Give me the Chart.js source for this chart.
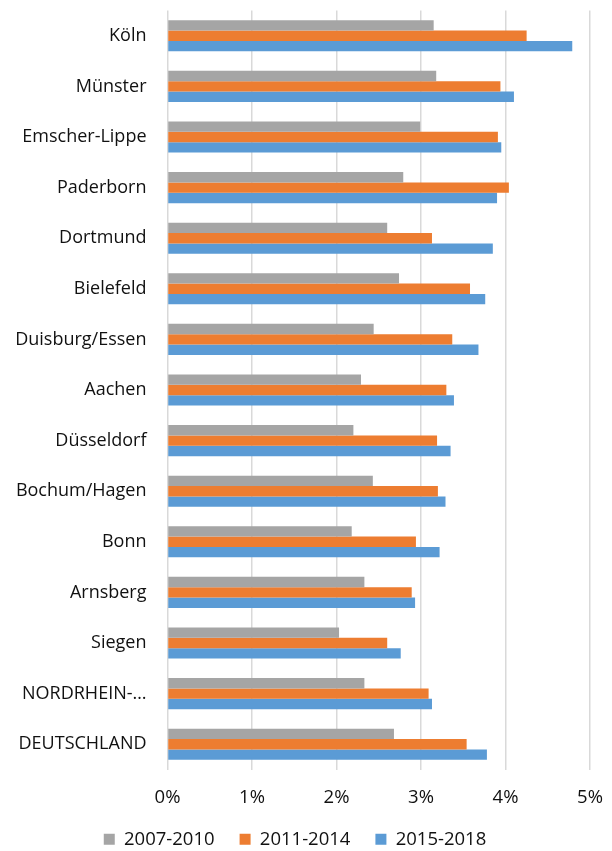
<!DOCTYPE html>
<html>
<head>
<meta charset="utf-8">
<script src="https://cdn.jsdelivr.net/npm/chart.js@4.4.0/dist/chart.umd.min.js"></script>
<style>
html,body{margin:0;padding:0;background:#fff;}
#wrap{position:relative;width:612px;height:851px;}
</style>
</head>
<body>
<div id="wrap"><canvas id="c" width="612" height="851"></canvas></div>
<script>
const categories = ["Köln","Münster","Emscher-Lippe","Paderborn","Dortmund","Bielefeld","Duisburg/Essen","Aachen","Düsseldorf","Bochum/Hagen","Bonn","Arnsberg","Siegen","NORDRHEIN-…","DEUTSCHLAND"];
const seriesNames = ["2007-2010","2011-2014","2015-2018"];
const s2007_2010 = [3.15,3.18,2.99,2.79,2.60,2.74,2.44,2.29,2.20,2.43,2.18,2.33,2.03,2.33,2.68];
const s2011_2014 = [4.25,3.94,3.91,4.04,3.13,3.58,3.37,3.30,3.19,3.20,2.94,2.89,2.60,3.09,3.54];
const s2015_2018 = [4.79,4.10,3.95,3.90,3.85,3.76,3.68,3.39,3.35,3.29,3.22,2.93,2.76,3.13,3.78];
const xTicks = [0,1,2,3,4,5];
const colors = ["#A5A5A5","#ED7D31","#5B9BD5"];

const FONT = "'Open Sans', sans-serif";
const data = {
  labels: categories,
  datasets: [s2007_2010, s2011_2014, s2015_2018].map((d,i)=>({
    label: seriesNames[i],
    data: d,
    backgroundColor: colors[i],
    borderWidth: 0,
    categoryPercentage: 0.615,
    barPercentage: 1.0
  }))
};
const legendFix = {
  id: 'legendFix',
  afterInit(chart) {
    const lg = chart.legend;
    if (!lg) return;
    const orig = lg.fit.bind(lg);
    lg.fit = function() { orig(); this.height = 46; };
  }
};
new Chart(document.getElementById('c'), {
  type: 'bar',
  data,
  plugins: [legendFix],
  options: {
    indexAxis: 'y',
    responsive: false,
    animation: false,
    devicePixelRatio: 1,
    layout: { padding: { top: 10.5, right: 22, bottom: 0, left: 0 } },
    scales: {
      x: {
        min: 0, max: 5,
        afterBuildTicks: (s) => { s.ticks = xTicks.map(v => ({value: v})); },
        afterFit: (s) => { s.height = 35.5; s.paddingLeft = 0; s.paddingRight = 0; },
        grid: { color: '#D9D9D9', lineWidth: 1.5, drawTicks: false },
        border: { display: false },
        ticks: {
          padding: 17,
          color: '#111',
          font: { family: FONT, size: 18.5 },
          callback: (v) => v + '%'
        }
      },
      y: {
        afterFit: (s) => { s.width = 167.5; s.paddingTop = 0; s.paddingBottom = 0; },
        grid: { display: false, drawTicks: false },
        border: { display: false },
        ticks: {
          padding: 21,
          color: '#111',
          font: { family: FONT, size: 18 },
          autoSkip: false
        }
      }
    },
    plugins: {
      legend: {
        position: 'bottom',
        labels: {
          boxWidth: 11,
          boxHeight: 11,
          padding: 25,
          color: '#111',
          font: { family: FONT, size: 18.5 }
        }
      },
      tooltip: { enabled: false }
    }
  }
});
</script>
</body>
</html>
